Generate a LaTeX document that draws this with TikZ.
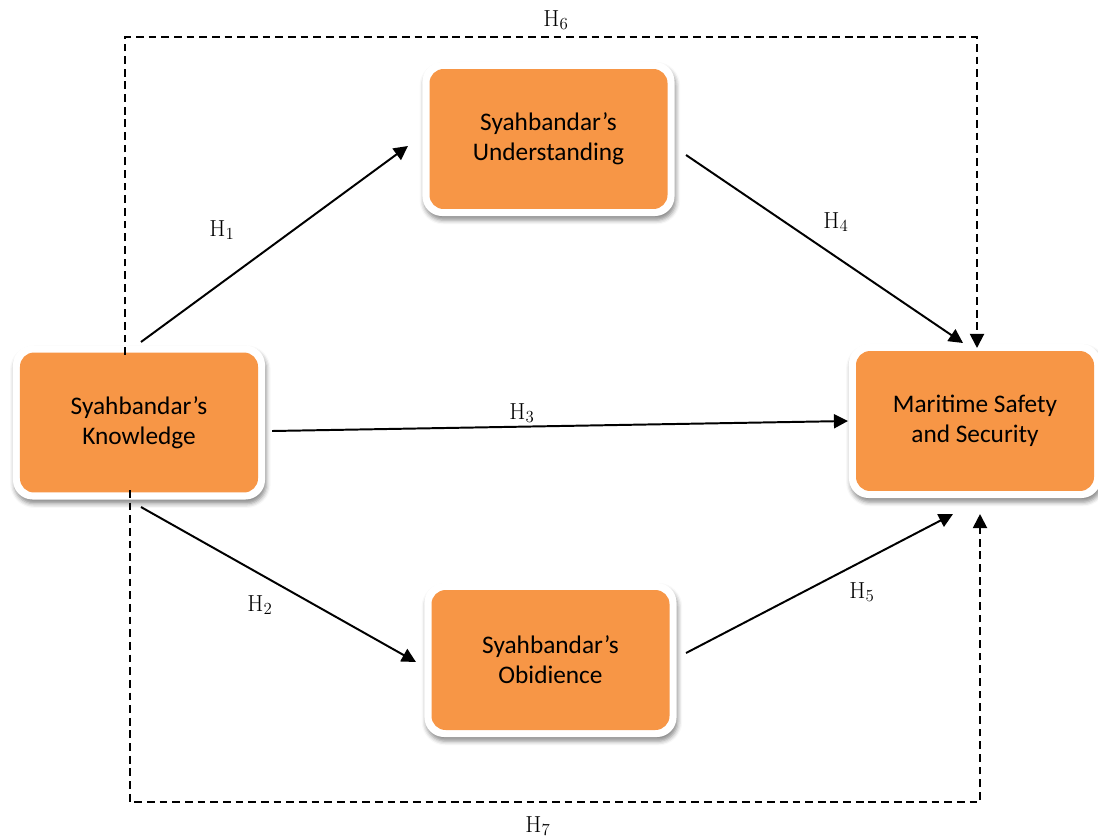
\documentclass[tikz,border=0pt]{standalone}
\usepackage{fontspec}
\newfontfamily\boxfont{Carlito}
\usetikzlibrary{arrows.meta,shadows.blur}
\definecolor{boxorange}{RGB}{247,150,70}

\begin{document}
\begin{tikzpicture}%
  [x=0.025cm, y=-0.025cm,
   >={Triangle[length=10pt,width=10pt]},
   construct/.style={rounded corners=14pt, fill=white, outer sep=0pt,
     minimum width=6.3cm, minimum height=3.85cm, align=center,
     font=\boxfont\fontsize{18}{21.5}\selectfont,
     blur shadow={shadow xshift=1pt, shadow yshift=-3pt,
                  shadow blur radius=3pt, shadow opacity=45},
     path picture={\fill[boxorange, rounded corners=10pt]
       ([shift={(5pt,5pt)}]path picture bounding box.south west) rectangle
       ([shift={(-5pt,-5pt)}]path picture bounding box.north east);}},
   hyp/.style={font=\fontsize{16.5}{19}\selectfont},
   link/.style={line width=1.4pt},
   indirect/.style={link, dash pattern=on 5.5pt off 3.5pt},
  ]
\useasboundingbox (0,0) rectangle (1098,837);

\node[construct] (know) at (139,422.5) {Syahbandar’s\\Knowledge};
\node[construct] (und)  at (548.5,139) {Syahbandar’s\\Understanding};
\node[construct] (obi)  at (550.5,660) {Syahbandar’s\\Obidience};
\node[construct] (mar)  at (975,421)   {Maritime Safety\\and Security};

\coordinate (top)    at (556,37);
\coordinate (bottom) at (538,802);

\node[hyp] (h1) at (222,230) {H$_1$};
\node[hyp] (h2) at (260,605) {H$_2$};
\node[hyp] (h3) at (522,413) {H$_3$};
\node[hyp] (h4) at (836,222) {H$_4$};
\node[hyp] (h5) at (862,592) {H$_5$};
\node[hyp] (h6) at (556,20)  {H$_6$};
\node[hyp] (h7) at (538,826) {H$_7$};

\path[->, link]
%   FROM                               TO
   ([shift={(2,-3.5)}]know.north)  edge ([shift={(-14.5,7)}]und.west)
   ([shift={(7,8.5)}]know.east)    edge ([shift={(-1,0)}]mar.west)
   ([shift={(2,7.5)}]know.south)   edge ([shift={(-8.5,2)}]obi.west)
   ([shift={(11.5,16)}]und.east)   edge ([shift={(-12,-1)}]mar.north)
   ([shift={(9.5,-7)}]obi.east)    edge ([shift={(-22,16)}]mar.south)
   ;

% indirect paths
\draw[->, indirect] ([shift={(-14,9.5)}]know.north) |- (top) -| ([shift={(2,4)}]mar.north);
\draw[->, indirect] ([shift={(-9,-9.5)}]know.south) |- (bottom) -| ([shift={(5,16)}]mar.south);
\end{tikzpicture}
\end{document}
